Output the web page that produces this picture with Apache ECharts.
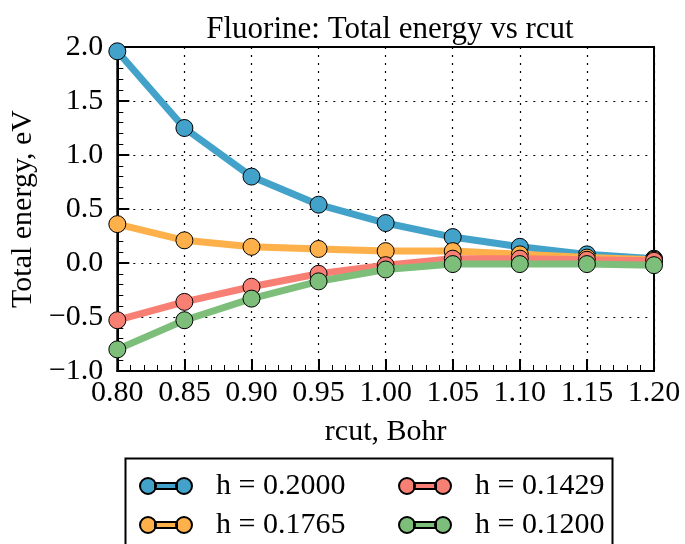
<!DOCTYPE html>
<html><head><meta charset="utf-8">
<script src="https://cdn.jsdelivr.net/npm/echarts@6/dist/echarts.min.js"></script>
<style>html,body{margin:0;padding:0;background:#fff}#c{width:685px;height:544px}</style>
</head><body><div id="c"></div>
<script>
var rcut = [0.80, 0.85, 0.90, 0.95, 1.00, 1.05, 1.10, 1.15, 1.20];
var seriesNames = ['h = 0.2000', 'h = 0.1765', 'h = 0.1429', 'h = 0.1200'];
var h2000 = [1.96, 1.25, 0.80, 0.54, 0.37, 0.24, 0.15, 0.08, 0.04];
var h1765 = [0.36, 0.21, 0.15, 0.13, 0.11, 0.11, 0.08, 0.05, 0.03];
var h1429 = [-0.53, -0.36, -0.22, -0.10, -0.02, 0.04, 0.04, 0.03, 0.02];
var h1200 = [-0.80, -0.53, -0.33, -0.17, -0.06, -0.01, -0.01, -0.01, -0.02];
var colors = ['#43a2ca', '#feb04a', '#f87f73', '#7dbe7a'];

var FONT = 'Liberation Serif';
var FS = 30;
var allData = [h2000, h1765, h1429, h1200];
function mk(i) {
  return {
    name: seriesNames[i], type: 'line',
    data: rcut.map(function (x, k) { return [x, allData[i][k]]; }),
    symbol: 'circle', symbolSize: 17,
    lineStyle: { width: 7, color: colors[i] },
    itemStyle: { color: colors[i], borderColor: '#000', borderWidth: 1 },
    clip: true, z: 2 + i
  };
}
var icon = 'path://M0,8a8,8 0 1,0 16,0a8,8 0 1,0 -16,0Z M36,8a8,8 0 1,0 16,0a8,8 0 1,0 -16,0Z M15,5L37,5L37,11L15,11Z';
function fmt(v, d) { var s = v.toFixed(d); return s.replace('-', '\u2212'); }
var legendBase = { orient: 'vertical', top: 466, height: 100, itemGap: 9,
  icon: icon, itemWidth: 52, itemHeight: 17, selectedMode: false,
  textStyle: { fontFamily: FONT, fontSize: FS, color: '#000', padding: [0, 0, 0, 19] } };
var chart = echarts.init(document.getElementById('c'));
chart.setOption({
  animation: false,
  title: { text: 'Fluorine: Total energy vs rcut', left: 385, textAlign: 'center', top: 9,
    textStyle: { fontFamily: FONT, fontSize: 31, fontWeight: 'normal', color: '#000' } },
  grid: { left: 116, top: 47, right: 31, bottom: 173, show: true, borderColor: '#000', borderWidth: 2, backgroundColor: 'transparent' },
  xAxis: {
    type: 'value', min: 0.8, max: 1.2, interval: 0.05,
    name: 'rcut, Bohr', nameLocation: 'middle', nameGap: 46,
    nameTextStyle: { fontFamily: FONT, fontSize: FS, color: '#000' },
    axisLine: { show: true, onZero: false, lineStyle: { color: '#000', width: 2 } },
    axisTick: { show: true, inside: true, length: 12, lineStyle: { color: '#000', width: 2 } },
    minorTick: { show: true, splitNumber: 5, length: 6, lineStyle: { color: '#000', width: 1 } },
    axisLabel: { fontFamily: FONT, fontSize: FS, color: '#000', margin: 7, formatter: function (v) { return fmt(v, 2); } },
    splitLine: { show: true, lineStyle: { color: '#000', type: [2, 6], width: 1.2 } }
  },
  yAxis: {
    type: 'value', min: -1, max: 2, interval: 0.5,
    name: 'Total energy, eV', nameLocation: 'middle', nameGap: 76, nameRotate: 90,
    nameTextStyle: { fontFamily: FONT, fontSize: FS, color: '#000' },
    axisLine: { show: true, onZero: false, lineStyle: { color: '#000', width: 2 } },
    axisTick: { show: true, inside: true, length: 12, lineStyle: { color: '#000', width: 2 } },
    minorTick: { show: true, splitNumber: 5, length: 6, lineStyle: { color: '#000', width: 1 } },
    axisLabel: { fontFamily: FONT, fontSize: FS, color: '#000', margin: 14, formatter: function (v) { return fmt(v, 1); } },
    splitLine: { show: true, lineStyle: { color: '#000', type: [2, 6], width: 1.2 } }
  },
  legend: [
    Object.assign({}, legendBase, { data: [seriesNames[0], seriesNames[1]], left: 134 }),
    Object.assign({}, legendBase, { data: [seriesNames[2], seriesNames[3]], left: 393 })
  ],
  graphic: [{ type: 'rect', left: 123, top: 456, shape: { width: 487, height: 100 },
    style: { fill: 'none', stroke: '#000', lineWidth: 2 }, z: 0 }],
  series: [mk(0), mk(1), mk(2), mk(3)]
});
</script></body></html>
